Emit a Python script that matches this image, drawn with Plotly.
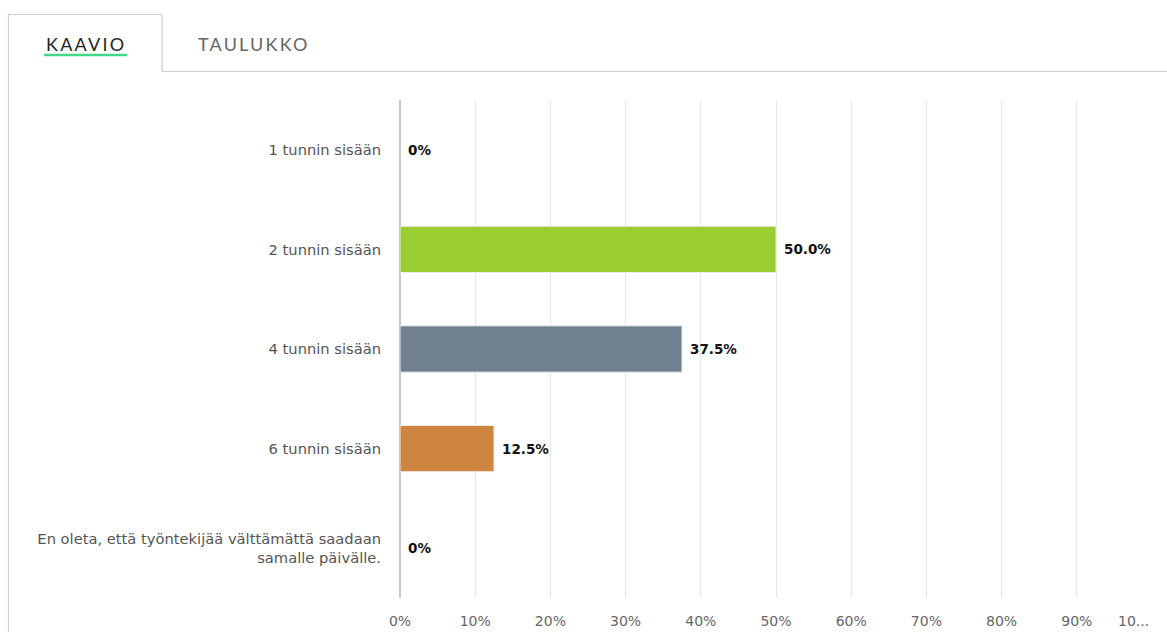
import plotly.graph_objects as go

# Survey answers: how soon a worker is expected to be found
categories = [
    "1 tunnin sisään",
    "2 tunnin sisään",
    "4 tunnin sisään",
    "6 tunnin sisään",
    "En oleta, että työntekijää välttämättä saadaan<br>samalle päivälle.",
]
shares = [0.0, 50.0, 37.5, 12.5, 0.0]
value_labels = ["0%", "50.0%", "37.5%", "12.5%", "0%"]
bar_colors = ["#4682B4", "#9ACD32", "#708090", "#CD853F", "#B0C4DE"]

tick_values = [0, 10, 20, 30, 40, 50, 60, 70, 80, 90, 100]
tick_labels = ["0%", "10%", "20%", "30%", "40%", "50%", "60%", "70%", "80%", "90%", ""]

FONT = "DejaVu Sans"
BORDER = "#cfcfcf"
W, H = 1167, 632
ML, MR, MT, MB = 400, 15, 100, 34

# pixel -> paper coordinate helpers for the page chrome
px = lambda v: (v - ML) / (W - ML - MR)
py = lambda v: (H - MB - v) / (H - MT - MB)

fig = go.Figure(
    go.Bar(
        x=shares,
        y=categories,
        orientation="h",
        width=0.465,
        marker=dict(
            color=bar_colors,
            # empty bars get no outline so the zero line stays visible
            line=dict(color="#eeeeee", width=[0 if v == 0 else 1 for v in shares]),
        ),
        hoverinfo="skip",
    )
)

annotations = []
for cat, val, lab in zip(categories, shares, value_labels):
    annotations.append(dict(
        x=val, y=cat, xref="x", yref="y", text=f"<b>{lab}</b>",
        showarrow=False, xanchor="left", xshift=6,
        font=dict(family=FONT, size=13.5, color="#111111"),
    ))

# truncated label of the last tick
annotations.append(dict(
    x=100, y=0, xref="x", yref="paper", text="10...", showarrow=False,
    xanchor="right", yanchor="top", yshift=-13, xshift=-1,
    font=dict(family=FONT, size=14, color="#666666"),
))

# tab headers
annotations.append(dict(
    x=px(86), y=py(44.5), xref="paper", yref="paper",
    text='<span style="letter-spacing:2.25px">KAAVIO</span>',
    showarrow=False, xanchor="center", yanchor="middle",
    font=dict(family="Lato", size=18, color="#262626"),
))
annotations.append(dict(
    x=px(254), y=py(44.5), xref="paper", yref="paper",
    text='<span style="letter-spacing:2.2px">TAULUKKO</span>',
    showarrow=False, xanchor="center", yanchor="middle",
    font=dict(family="Lato", size=18, color="#666666"),
))

shapes = [
    # tab outline
    dict(type="line", xref="paper", yref="paper", x0=px(8), x1=px(162), y0=py(14.5), y1=py(14.5),
         line=dict(color=BORDER, width=1.2)),
    dict(type="line", xref="paper", yref="paper", x0=px(8.5), x1=px(8.5), y0=py(14), y1=py(660),
         line=dict(color=BORDER, width=1.2)),
    dict(type="line", xref="paper", yref="paper", x0=px(162), x1=px(162), y0=py(14), y1=py(71.5),
         line=dict(color=BORDER, width=1.2)),
    dict(type="line", xref="paper", yref="paper", x0=px(162), x1=px(1170), y0=py(71.5), y1=py(71.5),
         line=dict(color=BORDER, width=1.2)),
    # active tab underline
    dict(type="line", xref="paper", yref="paper", x0=px(44), x1=px(127), y0=py(55), y1=py(55),
         line=dict(color="#45d68a", width=2.5)),
]

fig.update_layout(
    template="none",
    width=W, height=H,
    margin=dict(l=ML, r=MR, t=MT, b=MB, pad=0),
    paper_bgcolor="white", plot_bgcolor="white",
    showlegend=False,
    annotations=annotations,
    shapes=shapes,
    xaxis=dict(
        range=[0, 100], tickvals=tick_values, ticktext=tick_labels,
        automargin=False,
        showgrid=True, gridcolor="#e6e6e6", gridwidth=1,
        zeroline=True, zerolinecolor="#c8c8c8", zerolinewidth=1.5,
        showline=False, ticks="", ticklabelstandoff=13,
        tickfont=dict(family=FONT, size=14, color="#666666"),
        fixedrange=True,
    ),
    yaxis=dict(
        categoryorder="array", categoryarray=categories,
        autorange=False, range=[4.5, -0.5], automargin=False,
        showgrid=False, zeroline=False, showline=False, ticks="",
        ticklabelstandoff=18,
        tickfont=dict(family=FONT, size=14.7, color="#555555"),
        fixedrange=True,
    ),
)

fig.write_html("out.html", config={"displayModeBar": False})
